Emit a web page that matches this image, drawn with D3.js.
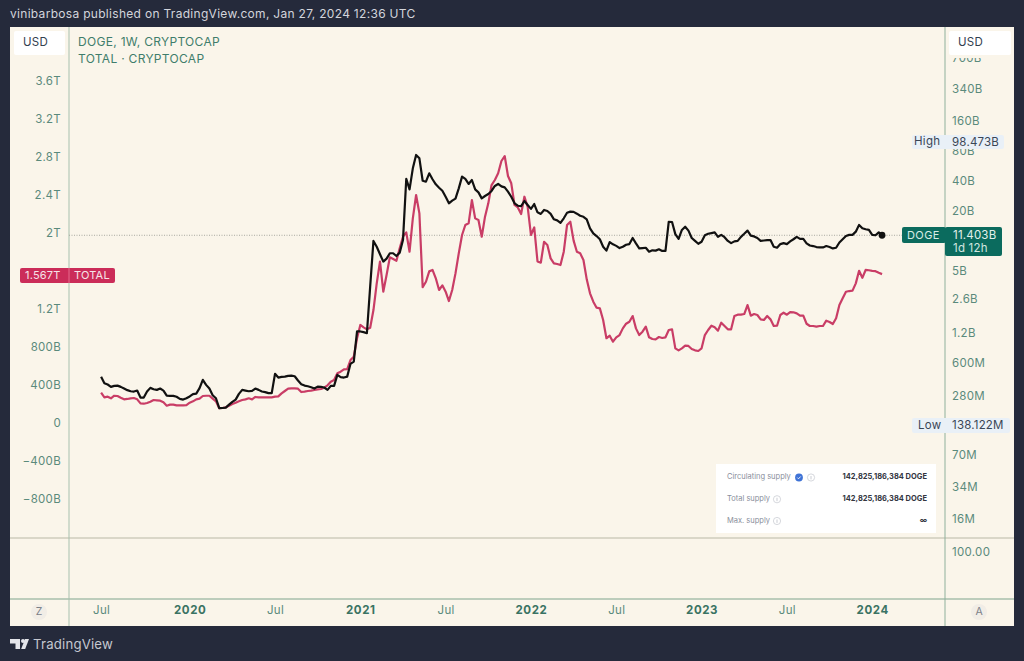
<!DOCTYPE html>
<html>
<head>
<meta charset="utf-8">
<script src="https://cdn.jsdelivr.net/npm/d3@7"></script>
<style>
  html, body { margin: 0; padding: 0; background: #252a3b; }
  svg { display: block; font-family: Inter, "Noto Sans", sans-serif; }
  .axis path, .axis line { display: none; }
  .axis text { fill: #5a8a7c; font-family: Inter, "Noto Sans", sans-serif; font-size: 11.5px; letter-spacing: .3px; }
</style>
</head>
<body>
<div id="chart"></div>
<script>
// weekly closes, first bar Jul 1 2019, last bar Jan 22 2024
const firstWeek = new Date(Date.UTC(2019, 6, 1));
const lastWeek = new Date(Date.UTC(2024, 0, 22));

// DOGE market cap, billions USD (log axis on the right)
const dogeCap = [
  .432,.371,.360,.341,.349,.351,.341,.328,.316,.308,
  .306,.313,.266,.266,.306,.333,.323,.318,.328,.313,
  .278,.277,.277,.271,.258,.254,.262,.273,.288,.292,
  .331,.401,.357,.328,.281,.262,.208,.209,.211,.226,
  .241,.254,.290,.318,.313,.308,.311,.328,.318,.306,
  .302,.295,.295,.461,.423,.430,.432,.439,.442,.436,
  .395,.363,.351,.346,.338,.328,.343,.341,.336,.318,
  .349,.349,.450,.427,.423,.432,.581,.613,1.23,1.23,
  1.21,1.18,3.47,10.0,8.73,7.35,6.2,6.64,7.52,7.52,
  7.06,7.63,10.2,42.0,33.0,53.7,73.2,67.7,40.3,39.4,
  47.9,41.7,37.1,34.3,32.0,27.8,23.9,25.4,26.6,33.8,
  44.3,42.0,37.4,41.0,33.0,30.8,26.8,28.3,29.6,31.8,
  35.7,37.4,35.4,34.6,31.3,27.8,23.9,22.6,22.4,25.2,
  23.0,21.0,23.5,19.4,18.7,20.5,20.0,18.7,16.5,16.1,
  15.2,16.9,19.2,19.7,19.6,18.8,17.9,17.5,16.5,13.4,
  11.9,11.2,10.4,8.73,7.99,9.74,9.24,8.92,8.48,8.73,
  9.15,9.3,10.7,9.45,8.41,8.48,8.54,7.8,8.05,7.99,
  8.25,7.93,7.93,15.6,15.5,11.7,10.5,12.9,13.9,12.7,
  10.7,10.0,9.36,9.8,11.4,11.8,12.0,12.2,11.0,11.5,
  10.9,10.0,9.5,9.9,10.0,11.0,11.8,12.7,11.3,11.1,
  10.7,10.0,10.1,10.2,10.2,8.73,8.54,9.3,9.5,9.3,
  9.9,10.4,11.0,10.5,10.5,9.45,9.0,8.88,8.68,8.6,
  8.6,8.88,8.68,8.41,8.54,9.65,10.4,11.2,11.5,11.5,
  12.4,14.5,13.4,13.1,12.9,11.5,11.4,12.2,11.403
];

// TOTAL crypto market cap, trillions USD (linear axis on the left)
const totalCap = [
  .319,.270,.277,.260,.287,.284,.266,.249,.253,.260,
  .263,.249,.207,.203,.211,.224,.242,.239,.235,.218,
  .182,.193,.193,.186,.186,.186,.189,.214,.228,.249,
  .256,.284,.287,.287,.256,.228,.155,.158,.165,.182,
  .200,.214,.228,.242,.249,.260,.249,.274,.270,.270,
  .270,.270,.270,.277,.280,.312,.337,.361,.365,.365,
  .361,.326,.330,.337,.340,.347,.354,.358,.372,.397,
  .435,.453,.523,.540,.565,.568,.663,.698,.892,1.032,
  1.007,.986,1.003,1.189,1.47,1.70,1.382,1.558,1.744,1.726,
  1.708,1.839,1.961,2.007,1.803,2.154,2.40,2.207,1.43,1.487,
  1.596,1.611,1.523,1.40,1.449,1.382,1.284,1.40,1.575,1.786,
  1.979,2.084,2.102,2.347,2.154,2.137,1.961,2.172,2.312,2.505,
  2.558,2.628,2.758,2.81,2.60,2.523,2.295,2.269,2.20,2.382,
  2.275,1.979,2.059,1.70,1.687,1.908,1.874,1.733,1.681,1.674,
  1.663,1.803,2.084,2.119,1.92,1.803,1.786,1.716,1.512,1.365,
  1.277,1.214,1.207,1.084,.892,.919,.856,.902,.926,.996,
  1.045,1.066,1.126,.996,.926,.961,1.014,.902,.884,.881,
  .905,.895,.902,.979,.986,.786,.765,.786,.814,.811,
  .779,.765,.758,.786,.926,.979,1.024,1.007,.972,1.056,
  1.021,.986,.986,1.126,1.14,1.14,1.147,1.242,1.13,1.147,
  1.137,1.091,1.084,1.126,1.091,1.021,1.024,1.137,1.161,1.14,
  1.168,1.165,1.154,1.13,1.13,1.045,1.021,1.021,1.014,1.021,
  1.021,1.077,1.063,1.042,1.102,1.242,1.313,1.382,1.389,1.393,
  1.47,1.602,1.528,1.611,1.608,1.602,1.598,1.581,1.567
];

const leftTicks = [3.6, 3.2, 2.8, 2.4, 2, 1.2, 0.8, 0.4, 0, -0.4, -0.8];
const leftLabels = ['3.6T', '3.2T', '2.8T', '2.4T', '2T', '1.2T', '800B', '400B', '0', '\u2212400B', '\u2212800B'];
const rightTicks = [700, 340, 160, 80, 40, 20, 5, 2.6, 1.2, 0.6, 0.28, 0.07, 0.034, 0.016];
const rightLabels = ['700B', '340B', '160B', '80B', '40B', '20B', '5B', '2.6B', '1.2B', '600M', '280M', '70M', '34M', '16M'];
const timeTicks = [[2019,6,1], [2020,0,6], [2020,6,6], [2021,0,4], [2021,6,5], [2022,0,3], [2022,6,4], [2023,0,2], [2023,6,3], [2024,0,1]]
  .map(d => new Date(Date.UTC(d[0], d[1], d[2])));
const timeLabels = ['Jul', '2020', 'Jul', '2021', 'Jul', '2022', 'Jul', '2023', 'Jul', '2024'];
const supplyRows = [
  ['Circulating supply', '142,825,186,384 DOGE'],
  ['Total supply', '142,825,186,384 DOGE'],
  ['Max. supply', '\u221e']
];
const dogeHigh = '98.473B';
const dogeLow = '138.122M';

const width = 1024, height = 661;
const svg = d3.select('#chart').append('svg').attr('width', width).attr('height', height);

const paneLeft = 69, paneRight = 945, panelTop = 27, panelBottom = 626, paneY = 538, timeY = 599;
const green = '#5a8a7c', teal = '#0b6b5e', crimson = '#cb2c59';

const x = d3.scaleUtc()
  .domain([new Date(Date.UTC(2020, 0, 6)), new Date(Date.UTC(2024, 0, 1))])
  .range([189.7, 872.2]);
const yTotal = d3.scaleLinear().domain([0, 3.6]).range([423, 81]);
const yDoge = d3.scaleLog().domain([20, 0.016]).range([211, 519]);

const weeks = d3.utcMonday.range(firstWeek, d3.utcDay.offset(lastWeek, 1));

// panel
svg.append('rect').attr('x', 10).attr('y', panelTop).attr('width', 1004).attr('height', panelBottom - panelTop).attr('fill', '#faf5ea');

const rule = (x1, y1, x2, y2, color) => svg.append('line')
  .attr('x1', x1).attr('y1', y1).attr('x2', x2).attr('y2', y2)
  .attr('stroke', color).attr('stroke-width', 1);
rule(10, paneY, 1014, paneY, '#b9b8a6');
rule(10, timeY, 1014, timeY, '#7fa48d');
rule(paneLeft, panelTop, paneLeft, panelBottom, '#a7c0ae');
rule(paneRight, panelTop, paneRight, panelBottom, '#8fb09c');

// last price line
svg.append('line')
  .attr('x1', paneLeft).attr('x2', paneRight)
  .attr('y1', yDoge(11.403)).attr('y2', yDoge(11.403))
  .attr('stroke', '#a8a8a0').attr('stroke-width', 1).attr('stroke-dasharray', '1 1.5');

// axes
svg.append('g').attr('class', 'axis').attr('transform', `translate(${paneLeft},0)`)
  .call(d3.axisLeft(yTotal).tickValues(leftTicks).tickSize(0).tickPadding(8)
    .tickFormat((d, i) => leftLabels[i]));
svg.append('g').attr('class', 'axis').attr('transform', `translate(${paneRight},0)`)
  .call(d3.axisRight(yDoge).tickValues(rightTicks).tickSize(0).tickPadding(7)
    .tickFormat((d, i) => rightLabels[i]));
const timeAxis = svg.append('g').attr('class', 'axis').attr('transform', `translate(0,${timeY + 7})`)
  .call(d3.axisBottom(x).tickValues(timeTicks).tickSize(0).tickPadding(0)
    .tickFormat((d, i) => timeLabels[i]));
timeAxis.selectAll('text')
  .style('font-weight', d => d.getUTCMonth() === 0 ? 700 : 400)
  .style('fill', d => d.getUTCMonth() === 0 ? '#3a7363' : green)
  .style('letter-spacing', d => d.getUTCMonth() === 0 ? '.6px' : '.3px');

// series
const lineTotal = d3.line().x((d, i) => x(weeks[i])).y(d => yTotal(d));
const lineDoge = d3.line().x((d, i) => x(weeks[i])).y(d => yDoge(d));
svg.append('path').datum(totalCap).attr('d', lineTotal)
  .attr('fill', 'none').attr('stroke', '#c93d66').attr('stroke-width', 2.2).attr('stroke-linejoin', 'round');
svg.append('path').datum(dogeCap).attr('d', lineDoge)
  .attr('fill', 'none').attr('stroke', '#111').attr('stroke-width', 2.2).attr('stroke-linejoin', 'round');
svg.append('circle')
  .attr('cx', x(weeks[weeks.length - 1])).attr('cy', yDoge(dogeCap[dogeCap.length - 1]))
  .attr('r', 3.4).attr('fill', '#111');

const box = (x0, y0, w, h, fill, r) => svg.append('rect')
  .attr('x', x0).attr('y', y0).attr('width', w).attr('height', h).attr('rx', r || 0).attr('fill', fill);
const label = (t, x0, y0, size, fill, opts) => {
  const o = opts || {};
  return svg.append('text').attr('x', x0).attr('y', y0)
    .attr('font-size', size).attr('fill', fill)
    .attr('font-weight', o.weight || 400)
    .attr('text-anchor', o.anchor || 'start')
    .attr('dominant-baseline', 'middle')
    .attr('letter-spacing', o.spacing || null)
    .text(t);
};

// header + footer
label('vinibarbosa published on TradingView.com, Jan 27, 2024 12:36 UTC', 10, 15, 12, '#d3d5dc', { spacing: '.3px' });
label('TradingView', 33, 645, 13.2, '#c6c8d0', { spacing: '.2px' });
svg.append('path').attr('d', 'M10 639h10v10h-4.5v-5.5h-5.5z').attr('fill', '#e4e5ea');
svg.append('circle').attr('cx', 23).attr('cy', 641).attr('r', 2).attr('fill', '#e4e5ea');
svg.append('path').attr('d', 'M25 639h4l-3.8 10h-4z').attr('fill', '#e4e5ea');

// legend + currency boxes (the cream strip hides most of the clipped top tick)
label('DOGE, 1W, CRYPTOCAP', 78, 42.5, 12, '#3f7d6b', { spacing: '.3px' });
label('TOTAL \u00b7 CRYPTOCAP', 78, 59.5, 12, '#3f7d6b', { spacing: '.3px' });
box(14, 31, 51, 24, '#fff', 2);
label('USD', 23, 43, 11.5, '#33404f', { spacing: '.3px' });
box(946, 28, 68, 30, '#faf5ea');
box(949, 31, 62, 24, '#fff', 2);
label('USD', 958, 43, 11.5, '#33404f', { spacing: '.3px' });

// high / low badges
box(912, 135, 92, 14, '#e9f0f7', 2);
label('High', 914, 142, 11.5, '#3a4656', { spacing: '.3px' });
label(dogeHigh, 952, 142.5, 11.5, '#3a4656', { spacing: '.2px' });
box(912, 418, 98, 15, '#e9f0f7', 2);
label('Low', 918, 426, 11.5, '#3a4656', { spacing: '.3px' });
label(dogeLow, 952, 426, 11.5, '#3a4656', { spacing: '.2px' });

// price badges
box(902, 227, 44, 16, teal, 2);
box(945, 227, 57, 29, teal, 2);
label('DOGE', 907, 235.5, 11, '#d8ece6', { spacing: '.4px' });
label('11.403B', 953, 236, 11.5, '#e2f1ec', { spacing: '.2px' });
label('1d 12h', 953, 249, 11.5, '#d2e7e0', { spacing: '.2px' });
box(20, 268, 95, 15, crimson, 2);
rule(69, 268, 69, 283, '#e56b8d');
label('1.567T', 25, 275.5, 11, '#f6e3e8', { spacing: '.2px' });
label('TOTAL', 74, 275.5, 11, '#f6e3e8', { spacing: '.2px' });

label('100.00', 952, 553, 11.5, green, { spacing: '.3px' });

// Z / A buttons
svg.append('circle').attr('cx', 39).attr('cy', 612).attr('r', 8).attr('fill', '#f1ede6');
label('Z', 39, 612, 10.5, '#7b7f86', { anchor: 'middle' });
svg.append('circle').attr('cx', 979).attr('cy', 612).attr('r', 8).attr('fill', '#f1ede6');
label('A', 979, 612, 10.5, '#7b7f86', { anchor: 'middle' });

// supply table
box(716, 464, 220, 69, '#fff');
const rowY = d3.scalePoint().domain(supplyRows.map(d => d[0])).range([477, 520.5]);
const iconX = [811, 777, 777];
supplyRows.forEach((d, i) => {
  const ry = rowY(d[0]);
  label(d[0], 727, ry, 7.5, '#8a8f9c');
  label(d[1], 927, ry, 7.5, '#33363f', { anchor: 'end', weight: 700 });
  svg.append('circle').attr('cx', iconX[i]).attr('cy', ry + .5).attr('r', 3.6)
    .attr('fill', 'none').attr('stroke', '#c4c7cf').attr('stroke-width', .7);
  svg.append('line').attr('x1', iconX[i]).attr('x2', iconX[i]).attr('y1', ry - 1).attr('y2', ry + 2.4)
    .attr('stroke', '#b4b8c2').attr('stroke-width', .7);
});
svg.append('circle').attr('cx', 799).attr('cy', 477.5).attr('r', 3.9).attr('fill', '#3f73d6');
svg.append('path').attr('d', 'M797.3 477.6l1.2 1.2 2.2-2.3').attr('fill', 'none').attr('stroke', '#fff').attr('stroke-width', .9);
</script>
</body>
</html>
